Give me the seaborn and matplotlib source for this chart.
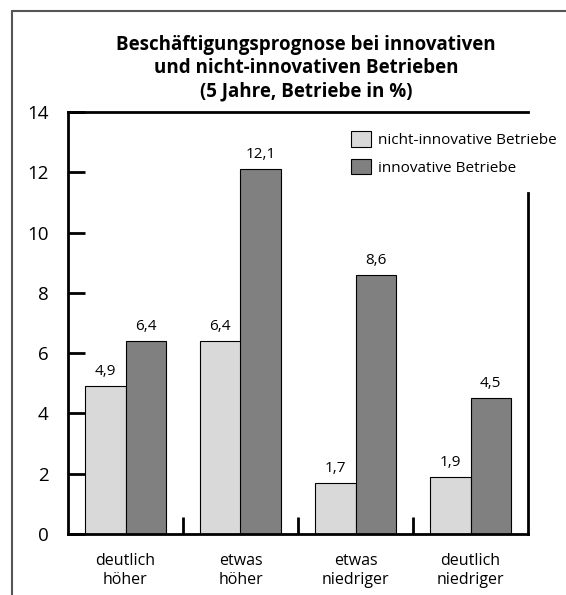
import pandas as pd
import matplotlib.pyplot as plt
import seaborn as sns
from matplotlib.lines import Line2D
from matplotlib.patches import Patch

# Daten
kategorien = ['deutlich\nhöher', 'etwas\nhöher', 'etwas\nniedriger', 'deutlich\nniedriger']
nicht_innovativ = [4.9, 6.4, 1.7, 1.9]
innovativ = [6.4, 12.1, 8.6, 4.5]
gruppen = ['nicht-innovative Betriebe', 'innovative Betriebe']
farben = ['#d9d9d9', '#808080']

df = pd.concat([
    pd.DataFrame({'Kategorie': kategorien, 'Wert': nicht_innovativ, 'Gruppe': gruppen[0]}),
    pd.DataFrame({'Kategorie': kategorien, 'Wert': innovativ, 'Gruppe': gruppen[1]}),
])

sns.set_style('white')
plt.rcParams['font.family'] = ['Open Sans', 'DejaVu Sans']
plt.rcParams['text.color'] = 'black'
plt.rcParams['xtick.color'] = 'black'
plt.rcParams['ytick.color'] = 'black'

fig = plt.figure(figsize=(5.66, 5.95), dpi=100)
ax = fig.add_axes([68 / 566, 1 - 534 / 595, 460 / 566, 422 / 595])

sns.barplot(data=df, x='Kategorie', y='Wert', hue='Gruppe', palette=farben,
            width=0.7, gap=0, edgecolor='black', linewidth=0.8, saturation=1,
            legend=False, ax=ax)

for cont in ax.containers:
    ax.bar_label(cont, labels=[f'{b.get_height():.1f}'.replace('.', ',') for b in cont],
                 padding=5, fontsize=11)

ax.set_ylim(0, 14)
ax.set_xlim(-0.5, 3.5)
ax.set_yticks(range(0, 15, 2))
ax.tick_params(axis='y', left=True, direction='in', length=12, width=2, labelsize=13.5, pad=14)
ax.set_xticks([0.5, 1.5, 2.5], minor=True)
ax.tick_params(axis='x', which='minor', bottom=True, direction='in', length=12, width=2)
ax.tick_params(axis='x', which='major', bottom=True, length=0, labelsize=11.5, pad=14)
ax.set_xlabel('')
ax.set_ylabel('')

for s in ax.spines.values():
    s.set_linewidth(2)
    s.set_color('black')
ax.spines['right'].set_bounds(0, 11.3)

handles = [Patch(facecolor=c, edgecolor='black', linewidth=0.8) for c in farben]
fig.legend(handles, gruppen, loc='upper left', bbox_to_anchor=(351 / 566, 1 - 131 / 595),
           frameon=False, fontsize=11, borderpad=0, borderaxespad=0,
           handlelength=1.3, handleheight=1.2, labelspacing=0.7, handletextpad=0.5)

fig.text(306 / 566, 1 - 68 / 595,
         'Beschäftigungsprognose bei innovativen\nund nicht-innovativen Betrieben\n(5 Jahre, Betriebe in %)',
         ha='center', va='center', fontsize=13.5, fontweight='bold', linespacing=1.2)

# Rahmen oben und links
fig.add_artist(Line2D([12 / 566, 1], [1 - 11 / 595] * 2, color='#555555', lw=1.5))
fig.add_artist(Line2D([12 / 566] * 2, [0, 1 - 11 / 595], color='#555555', lw=1.5))

fig.savefig('out.png', dpi=100)
